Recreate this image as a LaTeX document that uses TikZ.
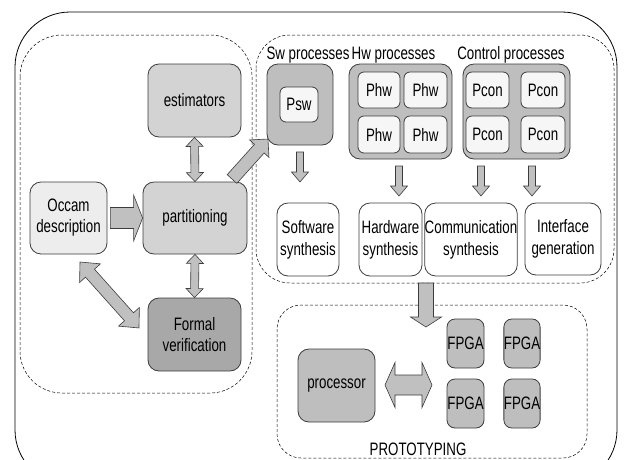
\documentclass[tikz,border=0pt]{standalone}
\usepackage{fontspec}
\setmainfont{Liberation Sans}[FakeStretch=0.74]
\usetikzlibrary{calc}

\definecolor{linegray}{RGB}{60,60,60}
\definecolor{occamfill}{RGB}{237,237,237}
\definecolor{lightfill}{RGB}{211,211,211}
\definecolor{darkfill}{RGB}{168,168,168}
\definecolor{midfill}{RGB}{190,190,190}
\definecolor{cellfill}{RGB}{246,246,246}
\definecolor{arrowfill}{RGB}{192,192,192}

% single block arrow: from, to, shaft half width, head half width, head length (pt)
\newcommand{\blockarrow}[5]{%
  \path[arrowbody] let \p1=(#1), \p2=(#2),
      \n1={atan2(\y2-\y1,\x2-\x1)}, \n2={veclen(\x2-\x1,\y2-\y1)}, \n3={\n2-#5pt} in
    [shift={(\x1,\y1)}, rotate=\n1]
    (0pt,#3pt) -- (\n3,#3pt) -- (\n3,#4pt) -- (\n2,0pt)
    -- (\n3,-#4pt) -- (\n3,-#3pt) -- (0pt,-#3pt) -- cycle;}
% double-headed block arrow, same arguments
\newcommand{\dblockarrow}[5]{%
  \path[arrowbody] let \p1=(#1), \p2=(#2),
      \n1={atan2(\y2-\y1,\x2-\x1)}, \n2={veclen(\x2-\x1,\y2-\y1)}, \n3={\n2-#5pt} in
    [shift={(\x1,\y1)}, rotate=\n1]
    (0pt,0pt) -- (#5pt,#4pt) -- (#5pt,#3pt) -- (\n3,#3pt) -- (\n3,#4pt)
    -- (\n2,0pt) -- (\n3,-#4pt) -- (\n3,-#3pt) -- (#5pt,-#3pt)
    -- (#5pt,-#4pt) -- cycle;}

\begin{document}
\begin{tikzpicture}[x=1pt,y=-1pt,
  font=\fontsize{18}{21}\selectfont,
  arrowbody/.style={fill=arrowfill, draw=linegray, line width=0.6pt, line join=miter},
  box/.style={draw=linegray, line width=0.8pt, rounded corners=11pt, align=center,
    inner sep=0pt, text=black},
  cell/.style={box, fill=cellfill, rounded corners=6pt},
  region/.style={draw=black, line width=0.5pt, dash pattern=on 3pt off 2pt},
  synbox/.style={box, fill=white, font=\fontsize{18}{22}\selectfont},
]
\useasboundingbox (0,0) rectangle (624,459);

% enclosing frame and dashed regions
\draw[line width=0.8pt, rounded corners=55pt] (15,12) rectangle (617,485);
\draw[region, rounded corners=42pt] (20,35) rectangle (252,393);
\draw[region, rounded corners=34pt] (256,35) rectangle (614,283);
\draw[region, rounded corners=24pt] (277,305) rectangle (587,458);

% partitioning stage
\node[box, fill=lightfill, minimum width=93pt, minimum height=73pt] (est) at (194.5,100.5) {estimators};
\node[box, fill=lightfill, minimum width=104pt, minimum height=72pt] (part) at (195,218) {partitioning};
\node[box, fill=occamfill, minimum width=77pt, minimum height=72pt] (occam) at (68.5,218) {Occam\\description};
\node[box, fill=darkfill, minimum width=93pt, minimum height=73pt] (formal) at (194.5,334.5) {Formal\\verification};

% process groups
\node (swlbl) at (308,55) {Sw processes};
\node (hwlbl) at (393.5,55) {Hw processes};
\node (ctllbl) at (511,55) {Control processes};

\node[box, fill=midfill, minimum width=66pt, minimum height=81pt] (swbox) at (300,104.5) {};
\node[cell, minimum width=38pt, minimum height=35pt] (psw) at (299,104.5) {Psw};

\node[box, fill=midfill, minimum width=103pt, minimum height=95pt] (hwbox) at (400.5,111.5) {};
\node[cell, minimum width=42pt, minimum height=36pt] (phw1) at (379,90) {Phw};
\node[cell, minimum width=43pt, minimum height=36pt] (phw2) at (425.5,90) {Phw};
\node[cell, minimum width=42pt, minimum height=37pt] (phw3) at (379,134.5) {Phw};
\node[cell, minimum width=43pt, minimum height=37pt] (phw4) at (425.5,134.5) {Phw};

\node[box, fill=midfill, minimum width=107pt, minimum height=95pt] (ctlbox) at (516.5,111.5) {};
\node[cell, minimum width=43pt, minimum height=36pt] (pcon1) at (487.5,90) {Pcon};
\node[cell, minimum width=44pt, minimum height=36pt] (pcon2) at (543,90) {Pcon};
\node[cell, minimum width=43pt, minimum height=37pt] (pcon3) at (487.5,134.5) {Pcon};
\node[cell, minimum width=44pt, minimum height=37pt] (pcon4) at (543,134.5) {Pcon};

% synthesis stage
\node[synbox, minimum width=62pt, minimum height=73pt] (swsyn) at (308,239.5) {Software\\synthesis};
\node[synbox, minimum width=63pt, minimum height=73pt] (hwsyn) at (390.5,239.5) {Hardware\\synthesis};
\node[synbox, minimum width=88pt, minimum height=73pt] (comsyn) at (471,239.5) {Communication\\synthesis};
\node[synbox, minimum width=76pt, minimum height=72pt] (intgen) at (563,239) {Interface\\generation};

% prototyping platform
\node[box, fill=midfill, minimum width=77pt, minimum height=73pt] (proc) at (336.5,385.5) {processor};
\node[box, fill=midfill, rounded corners=8pt, minimum width=37pt, minimum height=49pt] (fpga1) at (465.5,343.5) {FPGA};
\node[box, fill=midfill, rounded corners=8pt, minimum width=36pt, minimum height=49pt] (fpga2) at (522,343.5) {FPGA};
\node[box, fill=midfill, rounded corners=8pt, minimum width=37pt, minimum height=49pt] (fpga3) at (465.5,403.5) {FPGA};
\node[box, fill=midfill, rounded corners=8pt, minimum width=36pt, minimum height=49pt] (fpga4) at (522,403.5) {FPGA};
\node (protolbl) at (418,449) {PROTOTYPING};

% arrow end points
\coordinate (occamdiag) at (80,262);
\coordinate (formaldiag) at (139,328);
\coordinate (parttail) at (232,179);
\coordinate (swtip) at (268,139);
\coordinate (swdownA) at (300,152);
\coordinate (swdownB) at (300,182);
\coordinate (hwdownA) at (399,166);
\coordinate (hwdownB) at (399,196);
\coordinate (ctldownA) at (481,166);
\coordinate (ctldownB) at (481,196);
\coordinate (ifdownA) at (532,166);
\coordinate (ifdownB) at (532,196);
\coordinate (protoA) at (426,283);
\coordinate (protoB) at (426,327);
\coordinate (procR) at (385,385);
\coordinate (fpgaL) at (432,385);

% block arrows
\blockarrow{$(occam.east)+(3,0)$}{part.west}{10.5}{23}{9}
\dblockarrow{est.south}{part.north}{4}{8.5}{9}
\dblockarrow{part.south}{formal.north}{4}{8.5}{9}
\dblockarrow{occamdiag}{formaldiag}{6}{14}{15}
\blockarrow{parttail}{swtip}{6.5}{13}{13}
\blockarrow{swdownA}{swdownB}{3.5}{8.5}{10}
\blockarrow{hwdownA}{hwdownB}{3.5}{8.5}{10}
\blockarrow{ctldownA}{ctldownB}{3.5}{8.5}{10}
\blockarrow{ifdownA}{ifdownB}{3.5}{8.5}{10}
\blockarrow{protoA}{protoB}{7.5}{15.5}{10}
\dblockarrow{procR}{fpgaL}{10}{22.5}{10}
\end{tikzpicture}
\end{document}
